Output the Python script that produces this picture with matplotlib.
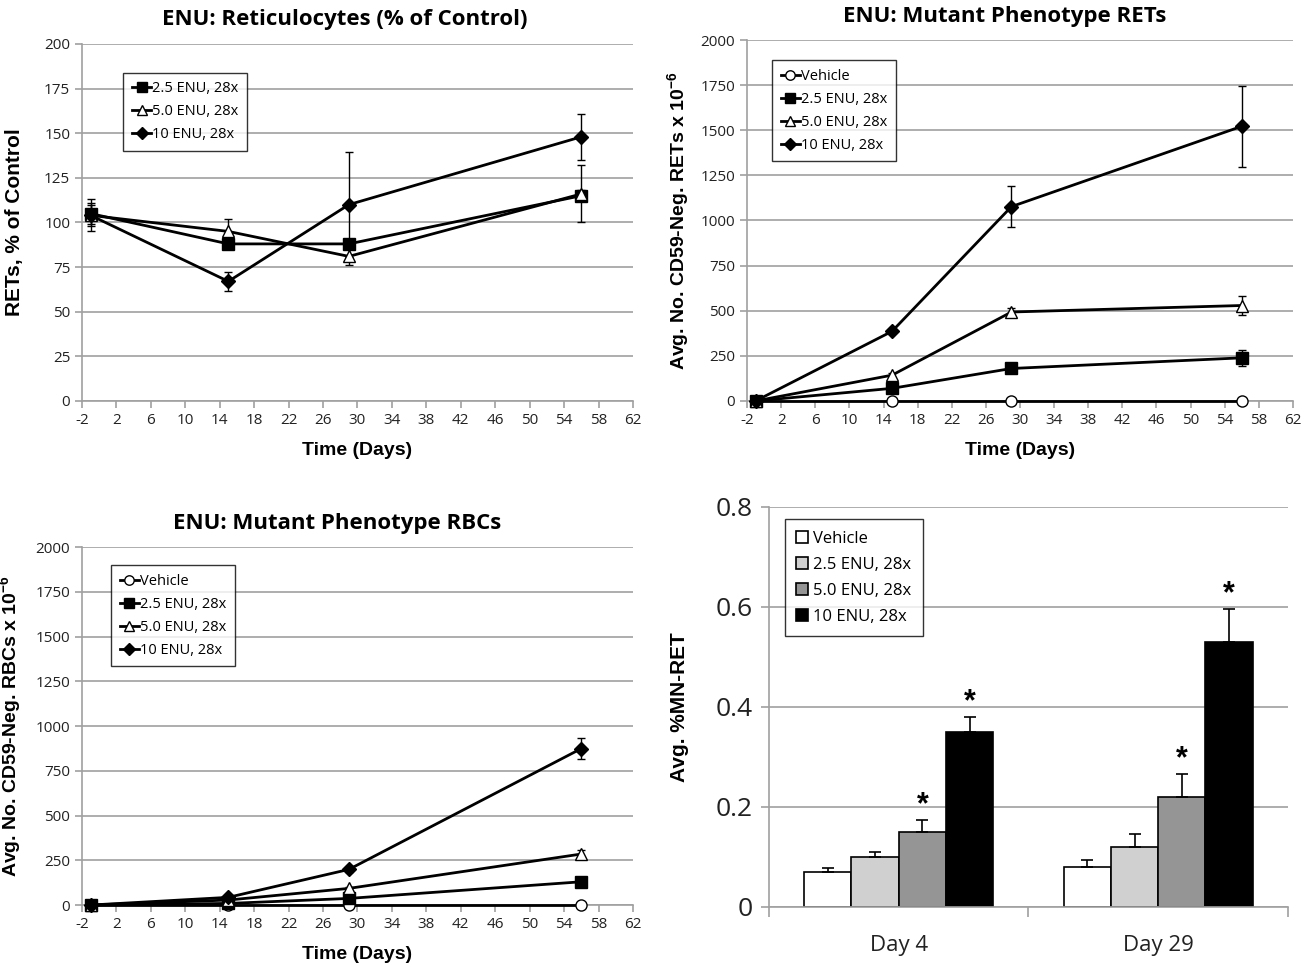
import matplotlib
matplotlib.use('Agg')
import matplotlib.pyplot as plt
from matplotlib.lines import Line2D
import numpy as np

plt.rcParams['font.family'] = ['Liberation Sans Narrow', 'Open Sans', 'DejaVu Sans']
plt.rcParams['mathtext.fontset'] = 'custom'
plt.rcParams['mathtext.rm'] = 'Liberation Sans'
plt.rcParams['mathtext.bf'] = 'Liberation Sans:bold'
plt.rcParams['axes.unicode_minus'] = False

# ---- data ----
days = [-1, 15, 29, 56]
labels_enu = ['2.5 ENU, 28x', '5.0 ENU, 28x', '10 ENU, 28x']

# panel A: reticulocytes % of control
ret_pct_25 = [105, 88, 88, 115]
ret_pct_50 = [104, 95, 81, 116]
ret_pct_10 = [104, 67, 110, 148]
ret_pct_25_err = [6, 3, 3, 3]
ret_pct_50_err = [9, 7, 5, 16]
ret_pct_10_err = [6, 5.5, 29.5, 13]

# panel B: mutant phenotype RETs
mret_veh = [0, 0, 0, 0]
mret_25 = [0, 70, 180, 239]
mret_50 = [0, 143, 493, 529]
mret_10 = [0, 386, 1077, 1522]
mret_veh_err = [0, 0, 0, 0]
mret_25_err = [0, 10, 15, 46]
mret_50_err = [0, 10, 23, 53]
mret_10_err = [0, 10, 115, 224]

# panel C: mutant phenotype RBCs
mrbc_veh = [0, 0, 0, 0]
mrbc_25 = [0, 9, 37, 130]
mrbc_50 = [0, 28, 93, 285]
mrbc_10 = [0, 43, 199, 874]
mrbc_veh_err = [0, 0, 0, 0]
mrbc_25_err = [0, 2, 5, 10]
mrbc_50_err = [0, 3, 8, 20]
mrbc_10_err = [0, 4, 15, 60]

# panel D: %MN-RET bars
bar_days = ['Day 4', 'Day 29']
bar_labels = ['Vehicle', '2.5 ENU, 28x', '5.0 ENU, 28x', '10 ENU, 28x']
mn_veh = [0.07, 0.08]
mn_25 = [0.10, 0.12]
mn_50 = [0.15, 0.22]
mn_10 = [0.35, 0.53]
mn_veh_err = [0.007, 0.013]
mn_25_err = [0.01, 0.025]
mn_50_err = [0.023, 0.045]
mn_10_err = [0.03, 0.065]
mn_sig = [[False, False, True, True], [False, False, True, True]]

GRID = '#a0a0a0'
bold_font = ['Liberation Sans', 'DejaVu Sans']


def style_line_axes(ax, ymax, ystep):
    ax.set_xlim(-2, 62)
    ax.set_xticks(np.arange(-2, 63, 4))
    ax.set_ylim(0, ymax)
    ax.set_yticks(np.arange(0, ymax + 1, ystep))
    ax.yaxis.grid(True, color=GRID, lw=1.2)
    ax.set_axisbelow(True)
    for s in ['top', 'right']:
        ax.spines[s].set_visible(False)
    for s in ['left', 'bottom']:
        ax.spines[s].set_color(GRID)
        ax.spines[s].set_linewidth(1.2)
    ax.tick_params(axis='both', colors=GRID, length=5, width=1.2, labelsize=11,
                   labelcolor='#222222')
    ax.set_xlabel('Time (Days)', fontsize=14, fontweight='bold', family=bold_font)
    ax.xaxis.set_label_coords(0.5, -0.115)


def marker_style(marker, fill):
    return dict(color='black', lw=2, marker=marker,
                markersize=8 if marker != 'D' else 7,
                markerfacecolor='black' if fill else 'white',
                markeredgecolor='black', markeredgewidth=1)


def plot_series(ax, y, err, marker, fill, label):
    ax.errorbar(days, y, yerr=err, ecolor='black', elinewidth=1, capsize=3,
                capthick=1, label=label, clip_on=False, zorder=3,
                **marker_style(marker, fill))


def line_legend(ax, x, y, items):
    handles = [Line2D([], [], **marker_style(m, f)) for m, f, _ in items]
    names = [n for _, _, n in items]
    for h in handles:
        h.set_markersize(h.get_markersize() * 0.85)
    leg = ax.legend(handles, names, loc='upper left', bbox_to_anchor=(x, y),
                    fontsize=10.5, frameon=True, fancybox=False,
                    handlelength=1.3, handletextpad=0.1, borderpad=0.6,
                    labelspacing=0.55, borderaxespad=0)
    leg.get_frame().set_edgecolor('black')
    leg.get_frame().set_linewidth(1)
    return leg


items3 = [('s', True, labels_enu[0]), ('^', False, labels_enu[1]),
          ('D', True, labels_enu[2])]
items4 = [('o', False, 'Vehicle')] + items3

fig = plt.figure(figsize=(13.14, 9.69), dpi=100)

# ---- panel A ----
ax1 = fig.add_axes([0.0624, 0.5862, 0.4193, 0.3684])
plot_series(ax1, ret_pct_25, ret_pct_25_err, 's', True, labels_enu[0])
plot_series(ax1, ret_pct_50, ret_pct_50_err, '^', False, labels_enu[1])
plot_series(ax1, ret_pct_10, ret_pct_10_err, 'D', True, labels_enu[2])
style_line_axes(ax1, 200, 25)
ax1.set_ylabel('RETs, % of Control', fontsize=15, fontweight='bold', family=bold_font)
ax1.yaxis.set_label_coords(-0.105, 0.5)
ax1.text(0.477, 1.07, 'ENU: Reticulocytes (% of Control)', transform=ax1.transAxes,
         ha='center', va='center', fontsize=16, fontweight='bold')
line_legend(ax1, 0.075, 0.92, items3)

# ---- panel B ----
ax2 = fig.add_axes([0.5685, 0.5862, 0.4155, 0.3725])
plot_series(ax2, mret_veh, mret_veh_err, 'o', False, 'Vehicle')
plot_series(ax2, mret_25, mret_25_err, 's', True, labels_enu[0])
plot_series(ax2, mret_50, mret_50_err, '^', False, labels_enu[1])
plot_series(ax2, mret_10, mret_10_err, 'D', True, labels_enu[2])
style_line_axes(ax2, 2000, 250)
ax2.set_ylabel(r'Avg. No. CD59-Neg. RETs x 10$^{\mathbf{-6}}$', fontsize=14,
               fontweight='bold', family=bold_font)
ax2.yaxis.set_label_coords(-0.1, 0.5)
ax2.text(0.472, 1.066, 'ENU: Mutant Phenotype RETs', transform=ax2.transAxes,
         ha='center', va='center', fontsize=16, fontweight='bold')
line_legend(ax2, 0.046, 0.945, items4)

# ---- panel C ----
ax3 = fig.add_axes([0.0624, 0.0660, 0.4193, 0.3695])
plot_series(ax3, mrbc_veh, mrbc_veh_err, 'o', False, 'Vehicle')
plot_series(ax3, mrbc_25, mrbc_25_err, 's', True, labels_enu[0])
plot_series(ax3, mrbc_50, mrbc_50_err, '^', False, labels_enu[1])
plot_series(ax3, mrbc_10, mrbc_10_err, 'D', True, labels_enu[2])
style_line_axes(ax3, 2000, 250)
ax3.set_ylabel(r'Avg. No. CD59-Neg. RBCs x 10$^{\mathbf{-6}}$', fontsize=14,
               fontweight='bold', family=bold_font)
ax3.yaxis.set_label_coords(-0.105, 0.5)
ax3.text(0.463, 1.067, 'ENU: Mutant Phenotype RBCs', transform=ax3.transAxes,
         ha='center', va='center', fontsize=16, fontweight='bold')
line_legend(ax3, 0.053, 0.95, items4)

# ---- panel D ----
ax4 = fig.add_axes([0.5852, 0.0640, 0.3950, 0.4128])
x = np.arange(len(bar_days))
w = 0.182
series = [(mn_veh, mn_veh_err, 'white'), (mn_25, mn_25_err, '#d0d0d0'),
          (mn_50, mn_50_err, '#959595'), (mn_10, mn_10_err, 'black')]
for i, (vals, errs, col) in enumerate(series):
    xs = x + (i - 1.5) * w
    ax4.bar(xs, vals, width=w, color=col, edgecolor='black', lw=1.2,
            label=bar_labels[i], zorder=2)
    ax4.errorbar(xs, vals, yerr=[np.zeros(len(errs)), errs], fmt='none',
                 ecolor='black', elinewidth=1.2, capsize=4, capthick=1.2, zorder=3)
    for j in range(len(vals)):
        if mn_sig[j][i]:
            ax4.text(xs[j], vals[j] + errs[j] + 0.03, '*', ha='center', va='center',
                     fontsize=22, fontweight='bold', family=bold_font)
ax4.set_xlim(-0.5, 1.5)
ax4.set_ylim(0, 0.8)
ax4.set_yticks([0, 0.2, 0.4, 0.6, 0.8])
ax4.set_yticklabels(['0', '0.2', '0.4', '0.6', '0.8'])
ax4.set_xticks(x)
ax4.set_xticklabels(bar_days)
ax4.set_xticks([-0.5, 0.5, 1.5], minor=True)
ax4.tick_params(axis='x', which='major', length=0, labelsize=16, pad=20,
                labelcolor='#222222')
ax4.tick_params(axis='x', which='minor', length=7, width=1.2, colors=GRID)
ax4.tick_params(axis='y', length=6, width=1.2, colors=GRID, labelsize=19,
                labelcolor='#222222', pad=6)
ax4.yaxis.grid(True, color=GRID, lw=1.2)
ax4.set_axisbelow(True)
for s in ['top', 'right']:
    ax4.spines[s].set_visible(False)
for s in ['left', 'bottom']:
    ax4.spines[s].set_color(GRID)
    ax4.spines[s].set_linewidth(1.2)
ax4.set_ylabel('Avg. %MN-RET', fontsize=15, fontweight='bold', family=bold_font)
ax4.yaxis.set_label_coords(-0.155, 0.5)
leg = ax4.legend(loc='upper left', bbox_to_anchor=(0.03, 0.97), fontsize=12,
                 frameon=True, fancybox=False, handlelength=0.7, handleheight=0.7,
                 handletextpad=0.3, borderpad=0.7, labelspacing=0.6,
                 borderaxespad=0)
leg.get_frame().set_edgecolor('black')
leg.get_frame().set_linewidth(1)

plt.savefig('out.png', dpi=100)
